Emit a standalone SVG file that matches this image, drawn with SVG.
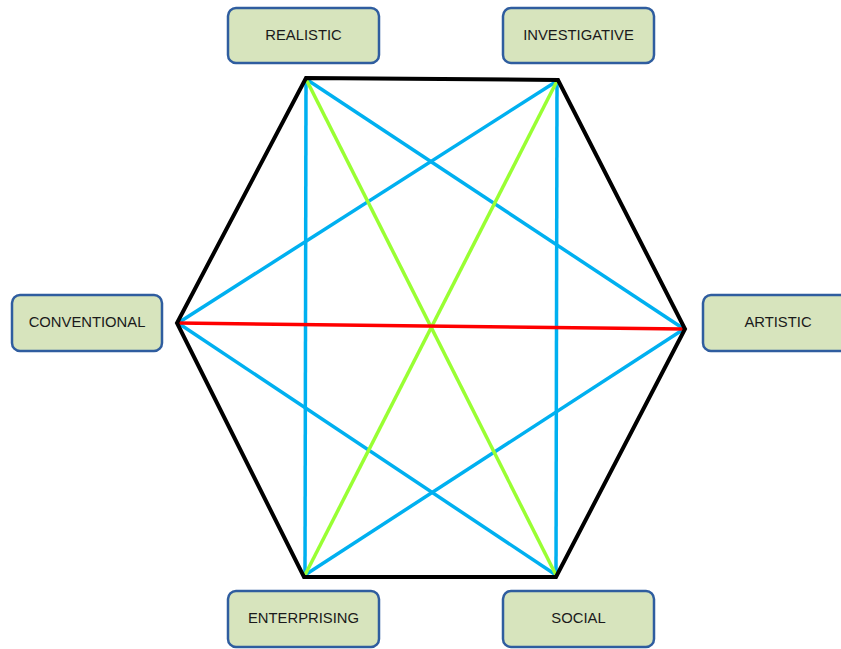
<svg xmlns="http://www.w3.org/2000/svg" width="841" height="649" viewBox="0 0 841 649">
  <style>
    .box { fill: #d7e4bd; stroke: #2f5d9f; stroke-width: 2.5; }
    .lbl { font-family: "Liberation Sans", Arial, sans-serif; font-size: 14.8px; fill: #1a1a1a; text-anchor: middle; }
    .blue { stroke: #00b0f0; stroke-width: 3.5; fill: none; }
    .green { stroke: #99ff33; stroke-width: 3.5; fill: none; }
    .red { stroke: #ff0000; stroke-width: 3.5; fill: none; }
    .hex { stroke: #000; stroke-width: 4; fill: none; stroke-linejoin: miter; }
  </style>
  <rect width="841" height="649" fill="#ffffff"/>

  <!-- hexagon diagonals -->
  <g id="connectors">
    <line class="blue" x1="306" y1="79" x2="305" y2="575"/>
    <line class="blue" x1="557" y1="81" x2="556" y2="575"/>
    <line class="blue" x1="306" y1="79" x2="684" y2="329"/>
    <line class="blue" x1="557" y1="81" x2="178" y2="323"/>
    <line class="blue" x1="178" y1="323" x2="556" y2="575"/>
    <line class="blue" x1="684" y1="329" x2="305" y2="575"/>
    <line class="green" x1="306" y1="79" x2="556" y2="575"/>
    <line class="green" x1="557" y1="81" x2="305" y2="575"/>
    <line class="red" x1="178" y1="323" x2="684" y2="329"/>
  </g>

  <!-- hexagon outline -->
  <g id="hexagon">
    <polygon class="hex" points="306,78 558,80 685,329 556,577 304,577 177,323"/>
  </g>

  <g id="realistic">
    <rect class="box" x="228" y="8" width="151" height="55" rx="8"/>
    <text class="lbl" x="303.5" y="39.5">REALISTIC</text>
  </g>
  <g id="investigative">
    <rect class="box" x="503" y="8" width="151" height="55" rx="8"/>
    <text class="lbl" x="578.5" y="39.5">INVESTIGATIVE</text>
  </g>
  <g id="conventional">
    <rect class="box" x="12" y="295" width="150" height="56" rx="8"/>
    <text class="lbl" x="87" y="327">CONVENTIONAL</text>
  </g>
  <g id="artistic">
    <rect class="box" x="703" y="295" width="151" height="56" rx="8"/>
    <text class="lbl" x="778" y="327">ARTISTIC</text>
  </g>
  <g id="enterprising">
    <rect class="box" x="228" y="591" width="151" height="56" rx="8"/>
    <text class="lbl" x="303.5" y="623">ENTERPRISING</text>
  </g>
  <g id="social">
    <rect class="box" x="503" y="591" width="151" height="56" rx="8"/>
    <text class="lbl" x="578.5" y="623">SOCIAL</text>
  </g>
</svg>
